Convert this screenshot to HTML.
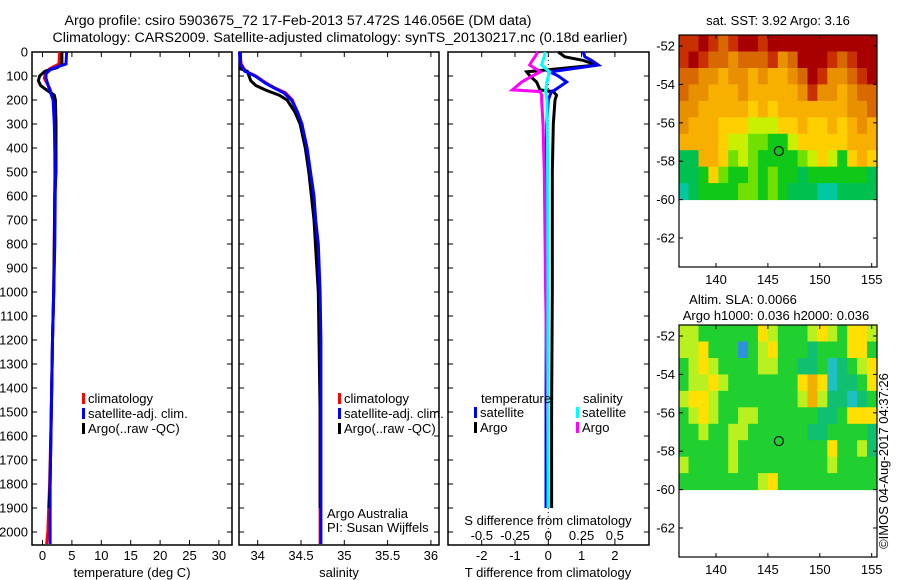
<!DOCTYPE html>
<html><head><meta charset="utf-8"><style>
html,body{margin:0;padding:0;background:#fff;width:900px;height:580px;overflow:hidden}
svg{font-family:"Liberation Sans",sans-serif;font-size:13px}
</style></head><body>
<svg id="chart" width="900" height="580" viewBox="0 0 900 580" xmlns="http://www.w3.org/2000/svg">
<text x="298" y="25" text-anchor="middle" font-size="14.2">Argo profile: csiro 5903675_72 17-Feb-2013 57.472S 146.056E (DM data)</text>
<text x="340" y="42" text-anchor="middle" font-size="14.2">Climatology: CARS2009. Satellite-adjusted climatology: synTS_20130217.nc (0.18d earlier)</text>
<g id="g"></g>
</svg>
<script>
// ---- data ----
const depthT = [0,50,65,80,100,120,140,160,180,200,300,400,500,600,800,1000,1200,1500,1800,1900];
const tempArgo = [3.3,3.3,2.5,0.4,-0.5,-0.7,-0.3,0.8,2.0,2.2,2.3,2.3,2.3,2.1,2.0,1.9,1.7,1.5,1.3,1.1];
const depthC = [0,50,70,90,110,150,200,300,500,800,1000,1200,1500,1800,2000,2050];
const tempClim = [2.9,2.8,1.2,0.5,0.3,1.2,1.9,2.1,2.1,2.0,1.9,1.7,1.5,1.2,0.9,0.7];
const tempSat = [4.1,4.0,1.5,0.6,0.6,1.1,1.8,2.0,2.2,2.1,1.9,1.7,1.5,1.3,1.3,1.3];
const depthS = [0,50,80,100,130,150,170,200,250,300,400,500,600,700,800,1000,1200,1500,2050];
const salClim = [33.79,33.81,33.86,33.98,34.1,34.2,34.32,34.4,34.46,34.51,34.56,34.6,34.64,34.66,34.69,34.71,34.72,34.72,34.72];
const salSat = [33.79,33.80,33.85,33.97,34.09,34.19,34.30,34.39,34.46,34.51,34.57,34.61,34.65,34.67,34.7,34.72,34.73,34.73,34.73];
const depthSA = [0,70,80,100,120,140,160,180,200,250,300,400,500,700,1000,1500,1900];
const salArgo = [33.8,33.8,33.88,33.9,33.92,33.98,34.1,34.25,34.34,34.43,34.49,34.55,34.59,34.65,34.7,34.72,34.72];
const depthD = [0,20,35,54,83,100,125,158,165,180,200,300,500,1000,1500,1900];
const dTArgo = [0.3,0.5,1.05,1.45,-0.65,-0.55,-0.35,-0.25,0.15,0.25,0.2,0.15,0.12,0.12,0.1,0.1];
const dTSat = [1.05,1.1,1.3,1.5,0.05,0.3,0.55,0.2,0.1,0.05,0.0,-0.05,-0.06,-0.06,-0.07,-0.07];
const dSArgo = [-0.08,-0.1,-0.12,-0.14,-0.06,-0.12,-0.2,-0.27,-0.06,-0.05,-0.05,-0.04,-0.03,-0.02,-0.005,0];
const dSSat = [-0.025,-0.03,-0.04,-0.05,0.01,0.0,-0.01,-0.02,-0.02,-0.015,-0.01,-0.008,-0.005,-0.003,-0.002,-0.002];
const depthTicks = [0,100,200,300,400,500,600,700,800,900,1000,1100,1200,1300,1400,1500,1600,1700,1800,1900,2000];
const tempTicks = [0,5,10,15,20,25,30];
const salTicks = [34,34.5,35,35.5,36];
const dTTicks = [-2,-1,0,1,2];
const dSTicks = [-0.5,-0.25,0,0.25,0.5];
const lonTicks = [140,145,150,155];
const latTicks = [-52,-54,-56,-58,-60,-62];
const sstGrid = [
[9,9,10,9,8,9,10,10,9,10,10,10,10,10,10,10,10,10,10,10],
[9,10,9,8,8,7,8,8,8,9,7,8,10,10,10,9,8,9,10,10],
[8,8,7,7,6,7,7,6,7,6,6,7,8,10,9,7,7,8,9,10],
[8,7,7,6,6,6,7,6,6,6,6,6,7,9,7,7,6,7,8,8],
[7,7,6,6,6,6,6,5,6,5,6,6,6,6,6,6,6,7,7,8],
[7,6,6,6,5,5,5,4,4,4,5,5,6,5,5,6,5,6,7,6],
[6,6,6,6,5,4,4,3,3,2,2,4,5,5,5,5,5,6,6,6],
[1,1,6,6,5,3,4,3,2,2,2,2,3,4,5,4,2,5,6,5],
[1,1,2,5,3,2,2,3,2,3,2,2,1,2,2,2,2,2,2,1],
[0,1,2,2,2,2,3,3,2,3,2,1,1,1,0,0,1,1,1,1]];
const slaGrid = [
[4,4,3,3,3,3,3,3,5,4,3,3,3,4,5,4,3,5,5,4],
[4,4,5,3,3,3,0,3,4,5,3,3,3,2,3,3,3,5,5,3],
[3,4,5,4,3,3,3,3,4,4,3,3,2,2,3,1,2,3,4,5],
[3,4,4,5,4,3,3,3,3,3,3,3,5,6,5,1,2,2,3,5],
[4,5,5,4,3,3,3,3,3,3,3,3,4,6,4,2,2,1,2,3],
[3,4,5,4,3,3,4,4,3,3,3,3,3,3,2,2,3,5,5,5],
[3,3,4,3,3,4,4,3,3,3,3,3,3,2,2,3,3,3,3,2],
[3,3,3,3,3,4,3,3,3,3,3,3,3,3,3,5,3,3,4,2],
[4,3,3,3,3,4,3,3,3,3,3,3,3,3,3,4,3,3,3,3],
[3,3,3,3,3,3,3,3,4,5,3,3,3,3,3,3,3,3,3,3]];
const argoLon = 146.056, argoLat = -57.472;

// ---- drawing ----
const NS='http://www.w3.org/2000/svg', G=document.getElementById('g');
function mk(t,a,p){const e=document.createElementNS(NS,t);for(const k in a)e.setAttribute(k,a[k]);(p||G).appendChild(e);return e;}
function txt(x,y,s,anchor,p){const e=mk('text',{x:x,y:y,'text-anchor':anchor||'start'},p);e.textContent=s;return e;}
const Y=d=>52+d*0.24;
const P1={l:32,r:232,x:v=>42.5+v*5.88};
const P2={l:239,r:439,x:v=>257.7+(v-34)*86.6};
const P3={l:448,r:649,x:v=>548.3+v*33.3};
const xS=v=>548.3+v*133;
const TOP=52,BOT=545;
function frame(P,name){
  const r=mk('rect',{x:P.l,y:TOP,width:P.r-P.l,height:BOT-TOP,fill:'none',stroke:'#000','stroke-width':1.5});
  
}
function line(xs,ds,fx,col,name,w){
  const pts=xs.map((v,i)=>fx(v).toFixed(1)+','+Y(ds[i]).toFixed(1)).join(' ');
  const e=mk('polyline',{points:pts,fill:'none',stroke:col,'stroke-width':w||3,'stroke-linejoin':'miter'});
  
}
[P1,P2,P3].forEach((P,i)=>frame(P,['temperature-panel','salinity-panel','difference-panel'][i]));
depthTicks.forEach(d=>{
  const t=txt(28,Y(d)+4.5,String(d),'end');
  
  [P1,P2,P3].forEach(P=>{mk('line',{x1:P.l,x2:P.l+5,y1:Y(d),y2:Y(d),stroke:'#000'});mk('line',{x1:P.r,x2:P.r-5,y1:Y(d),y2:Y(d),stroke:'#000'});});
});
function xticks(P,ticks,fx,ly){
  ticks.forEach(v=>{const x=fx(v);
    mk('line',{x1:x,x2:x,y1:TOP,y2:TOP+5,stroke:'#000'});mk('line',{x1:x,x2:x,y1:BOT,y2:BOT-5,stroke:'#000'});
    const t=txt(x,ly,String(v),'middle');
    });
}
xticks(P1,tempTicks,P1.x,560);
xticks(P2,salTicks,P2.x,560);
xticks(P3,dTTicks,P3.x,560);
dSTicks.forEach(v=>{const t=txt(xS(v),540,String(v),'middle');
  });
[[132,'temperature (deg C)','x-axis-title-temperature'],[339,'salinity','x-axis-title-salinity'],[548,'T difference from climatology','x-axis-title-t-diff']].forEach(a=>{
  const t=txt(a[0],577,a[1],'middle');});
{const t=txt(548,525,'S difference from climatology','middle');}
mk('line',{x1:548.3,x2:548.3,y1:TOP,y2:BOT,stroke:'#000','stroke-dasharray':'1,3'});
line(tempClim,depthC,P1.x,'#f00','temp-climatology-line');
line(tempArgo,depthT,P1.x,'#000','temp-argo-line');
line(tempSat,depthC,P1.x,'#00f','temp-satellite-line');
line(salClim,depthS,P2.x,'#f00','sal-climatology-line');
line(salArgo,depthSA,P2.x,'#000','sal-argo-line');
line(salSat,depthS,P2.x,'#00f','sal-satellite-line');
line(dTArgo,depthD,P3.x,'#000','t-diff-argo-line');
line(dTSat,depthD,P3.x,'#00f','t-diff-satellite-line');
line(dSArgo,depthD,xS,'#f0f','s-diff-argo-line');
line(dSSat,depthD,xS,'#0ff','s-diff-satellite-line');
function leg(x,y,col,label,name){
  const r=mk('rect',{x:x,y:y-10,width:3,height:11,fill:col});
  const t=txt(x+6,y,label);
}
[[82,'#f00','climatology'],[82,'#00f','satellite-adj. clim.'],[82,'#000','Argo(..raw -QC)']].forEach((a,i)=>leg(a[0],403+i*15,a[1],a[2],'legend-entry'));
[[338,'#f00','climatology'],[338,'#00f','satellite-adj. clim.'],[338,'#000','Argo(..raw -QC)']].forEach((a,i)=>leg(a[0],403+i*15,a[1],a[2],'legend-entry'));
{const t=txt(481,403,'temperature');
 const s=txt(583,403,'salinity');}
leg(474,417,'#00f','satellite','legend-entry');leg(474,432,'#000','Argo','legend-entry');
leg(576,417,'#0ff','satellite','legend-entry');leg(576,432,'#f0f','Argo','legend-entry');
{const a=txt(327,518,'Argo Australia');
 const b=txt(327,532,'PI: Susan Wijffels');}
const ML=679,MR=877;
const lonX=v=>716+(v-140)*10.38;
function mapPanel(top,grid,colors,name,titleLines){
  const latY=v=>top+11+(-52-v)*19.2;
  const lat0=-51.43,lat1=-60,lon0=136.4,lon1=155.5;
  const rows=grid.length,cols=grid[0].length;
  const dLat=(lat0-lat1)/rows,dLon=(lon1-lon0)/cols;
  const g=mk('g',{});
  grid.forEach((row,i)=>row.forEach((v,j)=>{
    const x0=lonX(lon0+j*dLon),x1=lonX(lon0+(j+1)*dLon),y0=latY(lat0-i*dLat),y1=latY(lat0-(i+1)*dLat);
    const c=mk('rect',{x:x0.toFixed(1),y:y0.toFixed(1),width:(x1-x0+0.5).toFixed(1),height:(y1-y0+0.5).toFixed(1),fill:colors[v]},g);
    
  }));
  const b=top+232;
  mk('rect',{x:ML,y:top,width:MR-ML,height:232,fill:'none',stroke:'#000','stroke-width':1.2});
  lonTicks.forEach(v=>{const x=lonX(v);mk('line',{x1:x,x2:x,y1:top,y2:top+4,stroke:'#000'});mk('line',{x1:x,x2:x,y1:b,y2:b-4,stroke:'#000'});
    const t=txt(x,b+17,String(v),'middle');});
  latTicks.forEach(v=>{const y=latY(v);mk('line',{x1:ML,x2:ML+4,y1:y,y2:y,stroke:'#000'});mk('line',{x1:MR,x2:MR-4,y1:y,y2:y,stroke:'#000'});
    const t=txt(675,y+4.5,String(v),'end');});
  const m=mk('circle',{cx:lonX(argoLon),cy:latY(argoLat),r:4.5,fill:'none',stroke:'#000','stroke-width':1.2});
  
  titleLines.forEach(a=>{const t=txt(a[0],a[1],a[2],'middle');});
}
const sstColors=['#00c8a0','#00c050','#10c818','#70e000','#c8f000','#ffd000','#f8b000','#e89000','#d86800','#c83000','#a80000'];
const slaColors=['#3090e0','#20c0c0','#10c070','#20d030','#b8f020','#ffe000','#f0b000'];
mapPanel(35,sstGrid,sstColors,'sst-map',[[778,25,'sat. SST: 3.92 Argo: 3.16']]);
mapPanel(325,slaGrid,slaColors,'sla-map',[[743,304,'Altim. SLA: 0.0066'],[776,320,'Argo h1000: 0.036 h2000: 0.036']]);
{const t=txt(0,0,'©IMOS 04-Aug-2017 04:37:26','middle');t.setAttribute('transform','translate(888,461) rotate(-90)');
 }
</script>
</body></html>
